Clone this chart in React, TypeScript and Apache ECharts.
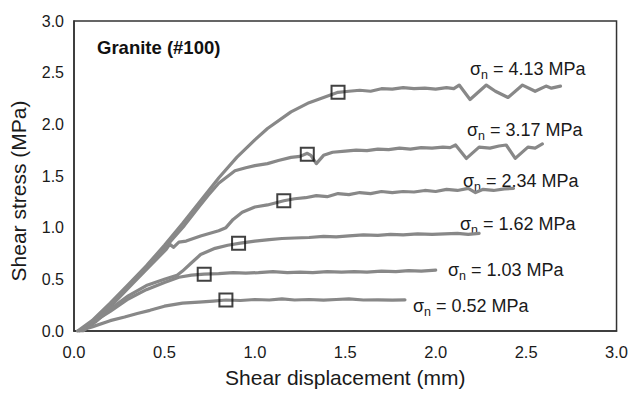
import React, { useEffect, useRef } from "react";
import * as echarts from "echarts";

// Shear displacement (mm), shear stress (MPa) for each normal stress level
const curve052: number[][] = [
  [0.02, 0], [0.1, 0.04], [0.2, 0.1], [0.28, 0.135], [0.35, 0.17], [0.42, 0.2], [0.5, 0.24],
  [0.6, 0.27], [0.69, 0.28], [0.77, 0.29], [0.84, 0.3], [0.92, 0.295], [1.0, 0.305],
  [1.08, 0.3], [1.15, 0.31], [1.22, 0.3], [1.3, 0.305], [1.38, 0.298], [1.45, 0.305],
  [1.52, 0.31], [1.6, 0.3], [1.68, 0.302], [1.76, 0.298], [1.83, 0.302],
];
const curve103: number[][] = [
  [0.03, 0], [0.1, 0.08], [0.2, 0.19], [0.3, 0.31], [0.4, 0.4], [0.5, 0.47], [0.58, 0.52],
  [0.65, 0.54], [0.72, 0.55], [0.8, 0.555], [0.88, 0.565], [0.95, 0.56], [1.02, 0.565],
  [1.1, 0.575], [1.18, 0.565], [1.25, 0.57], [1.32, 0.565], [1.4, 0.575], [1.48, 0.57],
  [1.55, 0.575], [1.62, 0.57], [1.7, 0.58], [1.78, 0.575], [1.85, 0.585], [1.92, 0.58],
  [2.0, 0.59],
];
const curve162: number[][] = [
  [0.05, 0], [0.12, 0.09], [0.2, 0.21], [0.3, 0.34], [0.4, 0.44], [0.5, 0.5], [0.57, 0.54],
  [0.6, 0.58], [0.65, 0.66], [0.7, 0.74], [0.78, 0.8], [0.85, 0.83], [0.92, 0.85],
  [1.0, 0.87], [1.08, 0.885], [1.15, 0.895], [1.22, 0.9], [1.3, 0.905], [1.38, 0.915],
  [1.45, 0.91], [1.52, 0.92], [1.6, 0.93], [1.68, 0.925], [1.75, 0.935], [1.82, 0.93],
  [1.9, 0.94], [1.98, 0.935], [2.05, 0.94], [2.12, 0.945], [2.18, 0.935], [2.24, 0.945],
];
const curve234: number[][] = [
  [0.04, 0], [0.12, 0.1], [0.22, 0.27], [0.32, 0.45], [0.42, 0.63], [0.51, 0.79],
  [0.53, 0.84], [0.55, 0.81], [0.58, 0.86], [0.62, 0.87], [0.7, 0.92], [0.8, 0.97],
  [0.84, 1.0], [0.88, 1.08], [0.93, 1.15], [1.0, 1.2], [1.07, 1.22], [1.16, 1.26],
  [1.22, 1.28], [1.28, 1.29], [1.34, 1.31], [1.4, 1.3], [1.46, 1.33], [1.52, 1.32],
  [1.58, 1.34], [1.64, 1.33], [1.7, 1.35], [1.76, 1.34], [1.82, 1.35], [1.88, 1.345],
  [1.94, 1.36], [2.0, 1.35], [2.06, 1.37], [2.12, 1.36], [2.18, 1.38], [2.22, 1.34],
  [2.26, 1.37], [2.32, 1.36], [2.38, 1.375], [2.43, 1.38],
];
const curve317: number[][] = [
  [0.03, 0], [0.11, 0.1], [0.21, 0.27], [0.31, 0.45], [0.41, 0.63], [0.51, 0.82],
  [0.61, 1.02], [0.69, 1.2], [0.74, 1.31], [0.8, 1.43], [0.89, 1.55], [0.95, 1.58],
  [1.0, 1.6], [1.07, 1.62], [1.13, 1.65], [1.2, 1.68], [1.25, 1.69], [1.29, 1.72],
  [1.31, 1.7], [1.34, 1.62], [1.38, 1.7], [1.43, 1.73], [1.5, 1.74], [1.56, 1.75],
  [1.62, 1.745], [1.68, 1.76], [1.74, 1.755], [1.8, 1.77], [1.86, 1.76], [1.92, 1.775],
  [1.98, 1.77], [2.04, 1.78], [2.08, 1.775], [2.11, 1.8], [2.17, 1.67], [2.24, 1.78],
  [2.3, 1.77], [2.35, 1.79], [2.39, 1.8], [2.44, 1.67], [2.51, 1.78], [2.55, 1.77],
  [2.59, 1.81],
];
const curve413: number[][] = [
  [0.02, 0], [0.1, 0.1], [0.2, 0.27], [0.3, 0.45], [0.4, 0.63], [0.5, 0.83], [0.6, 1.04],
  [0.7, 1.26], [0.8, 1.48], [0.9, 1.68], [1.0, 1.85], [1.07, 1.96], [1.2, 2.12],
  [1.3, 2.21], [1.38, 2.26], [1.46, 2.31], [1.52, 2.32], [1.58, 2.33], [1.64, 2.32],
  [1.7, 2.345], [1.76, 2.34], [1.82, 2.355], [1.88, 2.345], [1.94, 2.35], [2.0, 2.34],
  [2.06, 2.355], [2.1, 2.345], [2.13, 2.38], [2.19, 2.24], [2.28, 2.38], [2.33, 2.32],
  [2.4, 2.26], [2.48, 2.38], [2.55, 2.32], [2.61, 2.37], [2.64, 2.35], [2.69, 2.37],
];
// Peak shear stress markers
const peakPoints: number[][] = [
  [0.84, 0.3], [0.72, 0.55], [0.91, 0.85], [1.16, 1.26], [1.29, 1.71], [1.46, 2.31],
];
const normalStressLabels: string[] = ["0.52", "1.03", "1.62", "2.34", "3.17", "4.13"];
const xTicks = { min: 0, max: 3, interval: 0.5 };
const yTicks = { min: 0, max: 3, interval: 0.5 };

const FONT = "'Liberation Sans', Arial, Helvetica, sans-serif";

export default function App() {
  const ref = useRef<HTMLDivElement>(null);
  useEffect(() => {
    if (!ref.current) return;
    const chart = echarts.init(ref.current, undefined, { renderer: "svg" });
    const curves = [curve052, curve103, curve162, curve234, curve317, curve413];
    const labelPos = [
      [413, 306], [448, 270], [460, 224], [463, 181], [467, 130], [470, 69],
    ];
    const lineSeries = curves.map((d, i) => ({
      type: "line",
      name: normalStressLabels[i],
      data: d,
      symbol: "none",
      smooth: false,
      lineStyle: { color: "#888888", width: 3.2, join: "round", cap: "round" },
      z: 2,
    }));
    const option: any = {
      animation: false,
      backgroundColor: "#ffffff",
      grid: {
        left: 74, right: 9, top: 21, bottom: 58,
        show: true, borderColor: "#333", borderWidth: 1.5, containLabel: false,
      },
      xAxis: {
        type: "value", min: xTicks.min, max: xTicks.max, interval: xTicks.interval,
        name: "Shear displacement (mm)", nameLocation: "middle", nameGap: 36,
        nameTextStyle: { fontFamily: FONT, fontSize: 21, color: "#1a1a1a" },
        axisLine: { show: true, lineStyle: { color: "#333", width: 1.5 } },
        axisTick: { show: false },
        splitLine: { show: false },
        axisLabel: {
          fontFamily: FONT, fontSize: 16.5, color: "#1a1a1a", margin: 12,
          showMaxLabel: true,
          formatter: (v: number) => v.toFixed(1),
        },
      },
      yAxis: {
        type: "value", min: yTicks.min, max: yTicks.max, interval: yTicks.interval,
        axisLine: { show: true, lineStyle: { color: "#333", width: 1.5 } },
        axisTick: { show: false },
        splitLine: { show: false },
        axisLabel: {
          fontFamily: FONT, fontSize: 16, color: "#1a1a1a", margin: 10,
          formatter: (v: number) => v.toFixed(1),
        },
      },
      series: [
        ...lineSeries,
        {
          type: "scatter",
          data: peakPoints,
          symbol: "rect",
          symbolSize: 13,
          itemStyle: { color: "rgba(0,0,0,0)", borderColor: "#111", borderWidth: 2 },
          z: 5,
        },
      ],
      graphic: [
        {
          type: "text", x: 18, y: 191, rotation: Math.PI / 2,
          style: {
            text: "Shear stress (MPa)", fontFamily: FONT, fontSize: 21, fill: "#1a1a1a",
            textAlign: "center", textVerticalAlign: "middle",
          },
        },
        {
          type: "text", x: 97, y: 47,
          style: {
            text: "Granite (#100)", fontFamily: FONT, fontSize: 18.5, fontWeight: "bold",
            fill: "#111", textAlign: "left", textVerticalAlign: "middle",
          },
        },
        ...normalStressLabels.map((s, i) => ({
          type: "text", x: labelPos[i][0], y: labelPos[i][1],
          style: {
            text: `{a|σ}{b|n}{c| = ${s} MPa}`,
            textAlign: "left", textVerticalAlign: "middle", fill: "#1a1a1a",
            rich: {
              a: { fontFamily: FONT, fontSize: 18, lineHeight: 24, fill: "#1a1a1a", color: "#1a1a1a" },
              b: { fontFamily: FONT, fontSize: 12.5, lineHeight: 12, verticalAlign: "bottom", fill: "#1a1a1a", color: "#1a1a1a" },
              c: { fontFamily: FONT, fontSize: 18, lineHeight: 24, fill: "#1a1a1a", color: "#1a1a1a" },
            },
          },
        })),
      ],
    };
    chart.setOption(option);
    return () => chart.dispose();
  }, []);
  return (
    <div
      ref={ref}
      style={{ position: "absolute", left: 0, top: 0, width: 631, height: 393 }}
    />
  );
}
